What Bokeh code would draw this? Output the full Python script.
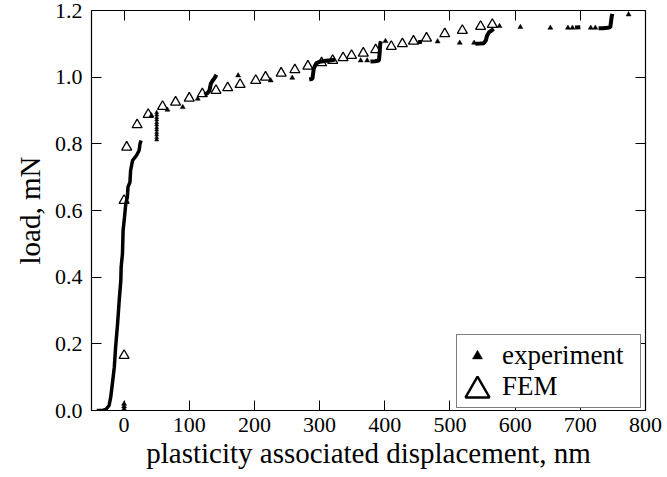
from bokeh.plotting import figure
from bokeh.models import Range1d, LinearAxis, FixedTicker, PrintfTickFormatter, Legend, LegendItem
from bokeh.embed import file_html
from bokeh.resources import INLINE

FONT = "Liberation Serif"

# ---------------- data ----------------
# FEM results (open triangles)
fem_x = [0, 0, 4, 20, 37, 59, 79, 100, 120, 141, 159, 178, 202, 217, 241, 262, 282, 303,
         320, 336, 349, 367, 386, 410, 427, 444, 464, 492, 519, 547, 565]
fem_y = [0.165, 0.63, 0.79, 0.857, 0.888, 0.912, 0.925, 0.937, 0.95, 0.96, 0.968, 0.978,
         0.99, 1.0, 1.012, 1.022, 1.033, 1.043, 1.05, 1.058, 1.065, 1.072, 1.082, 1.092,
         1.1, 1.108, 1.117, 1.13, 1.14, 1.152, 1.158]

# experiment: dense loading curve
exp_curve_x = [-42, -33, -28, -23, -20.5, -18, -15, -13, -10, -7.5, -5, -4.5, -2.5, -1.5,
               0.6, 2.6, 5, 6, 9, 10, 13, 19, 23, 24.5, 26]
exp_curve_y = [0.0, 0.0, 0.003, 0.015, 0.04, 0.08, 0.13, 0.19, 0.26, 0.33, 0.39, 0.43,
               0.47, 0.54, 0.58, 0.62, 0.64, 0.67, 0.685, 0.72, 0.75, 0.765, 0.78, 0.8, 0.81]

# experiment: dense segments (pop-ins)
seg1_x = [123, 128, 131, 133, 136, 139, 141.7]
seg1_y = [0.948, 0.952, 0.96, 0.98, 0.99, 0.998, 1.007]
seg2_x = [284, 289, 290, 291, 293, 295, 300, 310, 318, 324]
seg2_y = [0.993, 0.995, 1.01, 1.025, 1.035, 1.042, 1.046, 1.049, 1.051, 1.053]
seg3_x = [378, 385, 391, 392, 392.5, 393, 394]
seg3_y = [1.047, 1.048, 1.05, 1.07, 1.085, 1.1, 1.108]
seg4_x = [451, 457]
seg4_y = [1.105, 1.106]
seg5_x = [539, 546, 552, 555, 557, 560, 564, 567]
seg5_y = [1.1, 1.101, 1.102, 1.11, 1.125, 1.135, 1.14, 1.145]
seg6_x = [692, 700]
seg6_y = [1.149, 1.15]
seg7_x = [728, 735, 742, 746, 747, 748, 749]
seg7_y = [1.147, 1.147, 1.148, 1.15, 1.165, 1.18, 1.19]

# experiment: vertical run of points at ~50 nm
col_x = [50, 50, 50, 50, 50, 50, 50, 50, 50, 50, 50, 50]
col_y = [0.812, 0.819, 0.827, 0.834, 0.842, 0.849, 0.857, 0.864, 0.872, 0.879, 0.887, 0.894]

# experiment: isolated points
pts_x = [0, 0, 0, 42, 66.5, 90, 113, 175, 225, 258, 363, 373, 401, 481, 515, 537,
         576, 608, 654, 681, 688, 716, 723, 774]
pts_y = [0.004, 0.012, 0.02, 0.885, 0.902, 0.91, 0.935, 1.005, 0.99, 0.998, 1.05, 1.05,
         1.108, 1.107, 1.103, 1.103, 1.153, 1.15, 1.148, 1.148, 1.148, 1.148, 1.148, 1.188]

x_ticks = [0, 100, 200, 300, 400, 500, 600, 700, 800]
y_ticks = [0.0, 0.2, 0.4, 0.6, 0.8, 1.0, 1.2]

nan = float("nan")

# ---------------- figure ----------------
p = figure(width=667, height=477, output_backend="svg", toolbar_location=None,
           x_range=Range1d(-50, 800), y_range=Range1d(0, 1.2),
           min_border_left=91, min_border_right=22, min_border_top=10, min_border_bottom=67)
p.xgrid.visible = False
p.ygrid.visible = False
p.outline_line_color = "black"
p.outline_line_width = 1.2
p.background_fill_color = "white"
p.border_fill_color = "white"

# experiment
p.line(exp_curve_x, exp_curve_y, line_color="black", line_width=3.5)
p.multi_line([seg1_x, seg2_x, seg3_x, seg4_x, seg5_x, seg6_x, seg7_x],
             [seg1_y, seg2_y, seg3_y, seg4_y, seg5_y, seg6_y, seg7_y],
             line_color="black", line_width=4)
p.scatter(col_x, col_y, marker="triangle", size=4, fill_color="black", line_color="black",
          line_width=0.5)
exp_pts = p.scatter(pts_x, pts_y, marker="triangle", size=5, fill_color="black",
                    line_color="black", line_width=0.5)

# FEM
p.scatter(fem_x, fem_y, marker="triangle", size=10, fill_color=None, line_color="black",
          line_width=1.3)

# legend helpers (not drawn in the plot area)
invis = p.scatter(x=[nan], y=[nan], marker="triangle", size=10, fill_alpha=0, line_alpha=0)
big_fem = p.scatter(x=[nan], y=[nan], marker="triangle", size=24, fill_color="white",
                    line_color="black", line_width=2.4)

# axes
for ax in (p.xaxis[0], p.yaxis[0]):
    ax.major_tick_in = 10
    ax.major_tick_out = 0
    ax.minor_tick_in = 0
    ax.minor_tick_out = 0
    ax.major_tick_line_color = "black"
    ax.major_tick_line_width = 1
    ax.axis_line_color = None
    ax.major_label_text_font = FONT
    ax.major_label_text_font_size = "22px"
    ax.major_label_text_color = "black"
    ax.axis_label_text_font = FONT
    ax.axis_label_text_font_style = "normal"
    ax.axis_label_text_font_size = "29px"
    ax.axis_label_text_color = "black"

p.xaxis[0].ticker = FixedTicker(ticks=x_ticks)
p.yaxis[0].ticker = FixedTicker(ticks=y_ticks)
p.yaxis[0].formatter = PrintfTickFormatter(format="%.1f")
p.xaxis[0].axis_label = "plasticity associated displacement, nm"
p.yaxis[0].axis_label = "load, mN"
p.xaxis[0].major_label_standoff = 7
p.xaxis[0].axis_label_standoff = 2
p.yaxis[0].major_label_standoff = 9
p.yaxis[0].axis_label_standoff = 6

top_ax = LinearAxis(ticker=FixedTicker(ticks=x_ticks))
right_ax = LinearAxis(ticker=FixedTicker(ticks=y_ticks))
for ax in (top_ax, right_ax):
    ax.major_tick_in = 10
    ax.major_tick_out = 0
    ax.minor_tick_in = 0
    ax.minor_tick_out = 0
    ax.major_tick_line_color = "black"
    ax.axis_line_color = None
    ax.major_label_text_font_size = "1px"
    ax.major_label_text_color = None
    ax.major_label_standoff = 0
p.add_layout(top_ax, "above")
p.add_layout(right_ax, "right")

leg = Legend(items=[LegendItem(label="experiment", renderers=[exp_pts]),
                    LegendItem(label="FEM", renderers=[invis])],
             location=(365, 2), padding=5, spacing=0, margin=0,
             glyph_width=30, glyph_height=25, label_standoff=10, label_width=133,
             label_text_font=FONT, label_text_font_size="27px", label_text_color="black",
             border_line_color="black", border_line_width=1.3,
             background_fill_color="white", background_fill_alpha=1)
p.add_layout(leg, "center")

leg2 = Legend(items=[LegendItem(label="FEM", renderers=[big_fem])],
              location=(356, -10), padding=0, spacing=0, margin=0,
              glyph_width=60, glyph_height=60, label_standoff=0, label_width=0,
              label_height=0, label_text_font_size="1px", label_text_color=None,
              border_line_alpha=0, background_fill_alpha=0)
p.add_layout(leg2, "center")

open("out.html", "w").write(file_html(p, INLINE))
